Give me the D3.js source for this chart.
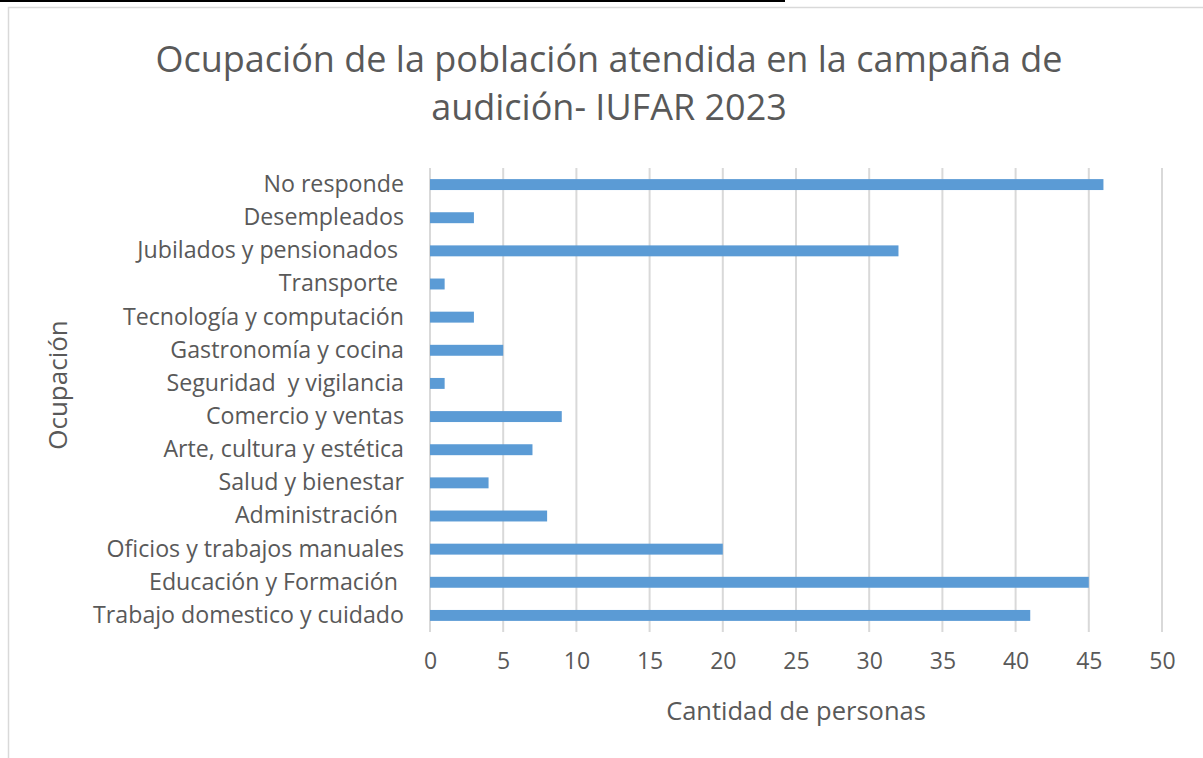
<!DOCTYPE html>
<html>
<head>
<meta charset="utf-8">
<script src="https://cdn.jsdelivr.net/npm/d3@7"></script>
<style>
  body { margin: 0; background: #fff; }
  text { font-family: "Open Sans", sans-serif; fill: #595959; white-space: pre; }
</style>
</head>
<body>
<svg id="chart"></svg>
<script>
// categories, top to bottom as in the chart
const categories = [
    "No responde",
    "Desempleados",
    "Jubilados y pensionados ",
    "Transporte ",
    "Tecnología y computación",
    "Gastronomía y cocina",
    "Seguridad  y vigilancia",
    "Comercio y ventas",
    "Arte, cultura y estética",
    "Salud y bienestar",
    "Administración ",
    "Oficios y trabajos manuales",
    "Educación y Formación ",
    "Trabajo domestico y cuidado"
];
const counts = [46, 3, 32, 1, 3, 5, 1, 9, 7, 4, 8, 20, 45, 41];
const xTicks = [0, 5, 10, 15, 20, 25, 30, 35, 40, 45, 50];
const titleLines = ["Ocupación de la población atendida en la campaña de", "audición- IUFAR 2023"];

const config = {
    width: 1203,
    height: 758,
    margin: { top: 168, right: 40, left: 430, bottom: 126 }
};

let svg = d3.select('#chart')
    .attr('width', config.width)
    .attr('height', config.height);

// black rule at the very top and the grey chart frame
svg.append('line')
    .attr('x1', 0).attr('x2', 785).attr('y1', 1).attr('y2', 1)
    .attr('stroke', '#000').attr('stroke-width', 2);
svg.append('rect')
    .attr('x', 8.5).attr('y', 7.5)
    .attr('width', 1220).attr('height', 780)
    .attr('fill', 'none').attr('stroke', '#d9d9d9').attr('stroke-width', 1.5);

let innerW = 1162 - config.margin.left;
let innerH = 632 - config.margin.top;

let chart = svg.append('g')
    .attr('transform', `translate(${config.margin.left}, ${config.margin.top})`);

let xScale = d3.scaleLinear()
    .domain([0, 50])
    .range([0, innerW]);

let yScale = d3.scaleBand()
    .domain(categories)
    .range([0, innerH])
    .paddingInner(0.67)
    .paddingOuter(0.335);

// vertical gridlines
chart.selectAll('.grid')
    .data(xTicks)
    .join('line')
        .attr('class', 'grid')
        .attr('x1', d => xScale(d)).attr('x2', d => xScale(d))
        .attr('y1', 0).attr('y2', innerH)
        .attr('stroke', '#d9d9d9')
        .attr('stroke-width', 2);

// x axis labels
let xAxis = chart.append('g')
    .attr('transform', `translate(0, ${innerH})`)
    .call(d3.axisBottom(xScale).tickValues(xTicks).tickSize(0).tickPadding(21));
xAxis.select('.domain').remove();
xAxis.selectAll('text')
    .style('font-size', '23px')
    .attr('fill', '#595959')
    .style('font-family', '"Open Sans", sans-serif');

// y axis labels
let yAxis = chart.append('g')
    .call(d3.axisLeft(yScale).tickSize(0).tickPadding(26));
yAxis.select('.domain').remove();
yAxis.selectAll('text')
    .style('font-size', '23.2px')
    .attr('fill', '#595959')
    .style('font-family', '"Open Sans", sans-serif');

// bars
chart.selectAll('.bar')
    .data(categories)
    .join('rect')
        .attr('class', 'bar')
        .attr('fill', '#5b9bd5')
        .attr('x', 0)
        .attr('y', d => yScale(d))
        .attr('height', yScale.bandwidth())
        .attr('width', (d, i) => xScale(counts[i]));

// title
svg.append('text')
    .attr('x', 609)
    .attr('text-anchor', 'middle')
    .style('font-size', '36px')
    .selectAll('tspan')
    .data(titleLines)
    .join('tspan')
        .attr('x', 609)
        .attr('y', (d, i) => 72 + i * 48)
        .text(d => d);

// axis titles
svg.append('text')
    .attr('x', 796).attr('y', 720)
    .attr('text-anchor', 'middle')
    .style('font-size', '25.5px')
    .text('Cantidad de personas');

svg.append('text')
    .attr('transform', 'translate(67, 385) rotate(-90)')
    .attr('text-anchor', 'middle')
    .style('font-size', '26px')
    .text('Ocupación');
</script>
</body>
</html>
